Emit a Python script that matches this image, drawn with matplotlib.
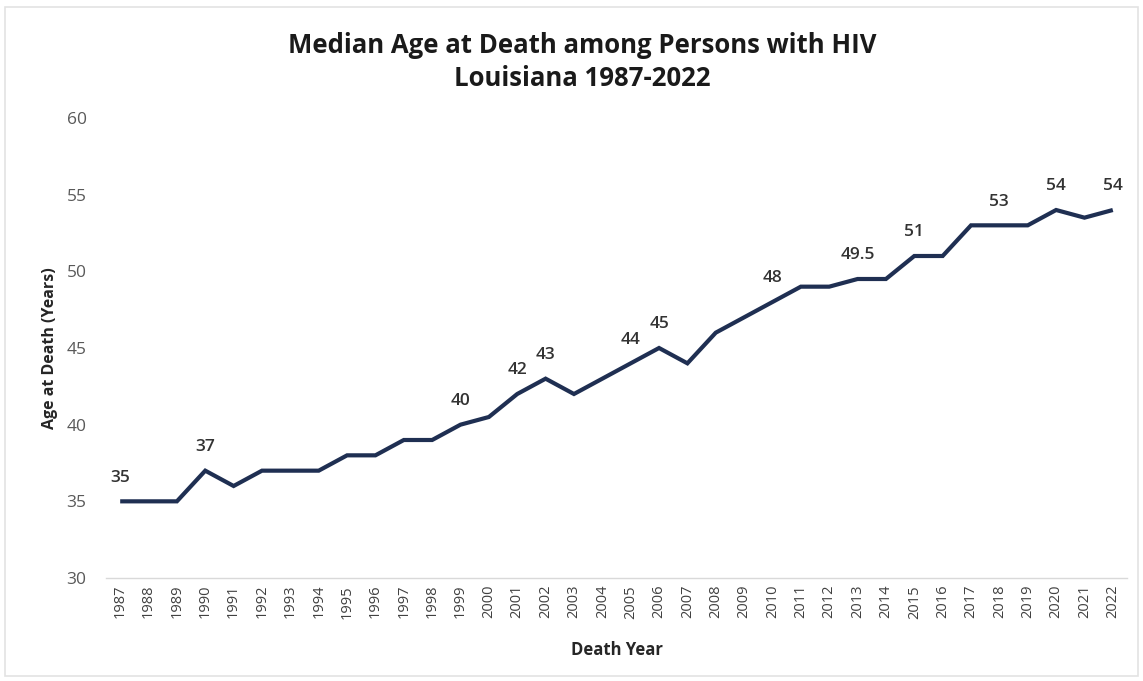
import matplotlib
matplotlib.use("Agg")
import matplotlib.pyplot as plt
from matplotlib.patches import Rectangle

# Median age at death among persons with HIV, Louisiana
years = list(range(1987, 2023))
median_age = [35, 35, 35, 37, 36, 37, 37, 37, 38, 38, 39, 39, 40, 40.5,
              42, 43, 42, 43, 44, 45, 44, 46, 47, 48, 49, 49, 49.5, 49.5,
              51, 51, 53, 53, 53, 54, 53.5, 54]
labeled_years = [1987, 1990, 1999, 2001, 2002, 2005, 2006, 2010, 2013,
                 2015, 2018, 2020, 2022]
y_ticks = [30, 35, 40, 45, 50, 55, 60]

title = "Median Age at Death among Persons with HIV\nLouisiana 1987-2022"
x_label = "Death Year"
y_label = "Age at Death (Years)"

FONT = ["Open Sans", "DejaVu Sans"]
plt.rcParams["font.family"] = FONT

fig = plt.figure(figsize=(11.43, 6.81), dpi=100)
fig.patch.set_facecolor("white")
W, H = 1143, 681
ax = fig.add_axes([106 / W, 1 - 578 / H, (1127 - 106) / W, (578 - 118) / H])

# light frame around the chart area
fig.patches.append(Rectangle((5 / W, 5 / H), 1133 / W, 669 / H,
                             transform=fig.transFigure, fill=False,
                             edgecolor="#e3e3e3", linewidth=1.2))

xs = list(range(len(years)))
line_color = "#1f2f52"
ax.plot(xs, median_age, color=line_color, linewidth=3.0,
        solid_joinstyle="miter", solid_capstyle="butt")

for yr in labeled_years:
    i = years.index(yr)
    v = median_age[i]
    txt = f"{v:g}"
    ax.annotate(txt, (i, v), xytext=(0, 17), textcoords="offset points",
                ha="center", va="center", fontsize=12.5, fontweight="semibold",
                color="#333333")

ax.set_xlim(-0.5, len(years) - 0.5)
ax.set_ylim(30, 60)
ax.set_yticks(y_ticks)
ax.set_yticklabels([str(t) for t in y_ticks], fontsize=12.5, color="#595959")
ax.set_xticks(xs)
ax.set_xticklabels([str(y) for y in years], rotation=90, fontsize=10.5,
                   color="#404040")
ax.tick_params(axis="both", length=0)
ax.tick_params(axis="y", pad=14)
ax.tick_params(axis="x", pad=5)

for s in ["top", "right", "left"]:
    ax.spines[s].set_visible(False)
ax.spines["bottom"].set_color("#d9d9d9")
ax.spines["bottom"].set_linewidth(1.0)

ax.set_xlabel(x_label, fontsize=12, fontweight="bold", color="#262626",
              labelpad=16)
ax.set_ylabel(y_label, fontsize=11.5, fontweight="bold", color="#262626",
              labelpad=6)

fig.text(582 / W, 1 - 62 / H, title, ha="center", va="center",
         fontsize=18.5, fontweight="bold", color="#1a1a1a", linespacing=1.25)

fig.savefig("out.png", dpi=100, facecolor="white")
